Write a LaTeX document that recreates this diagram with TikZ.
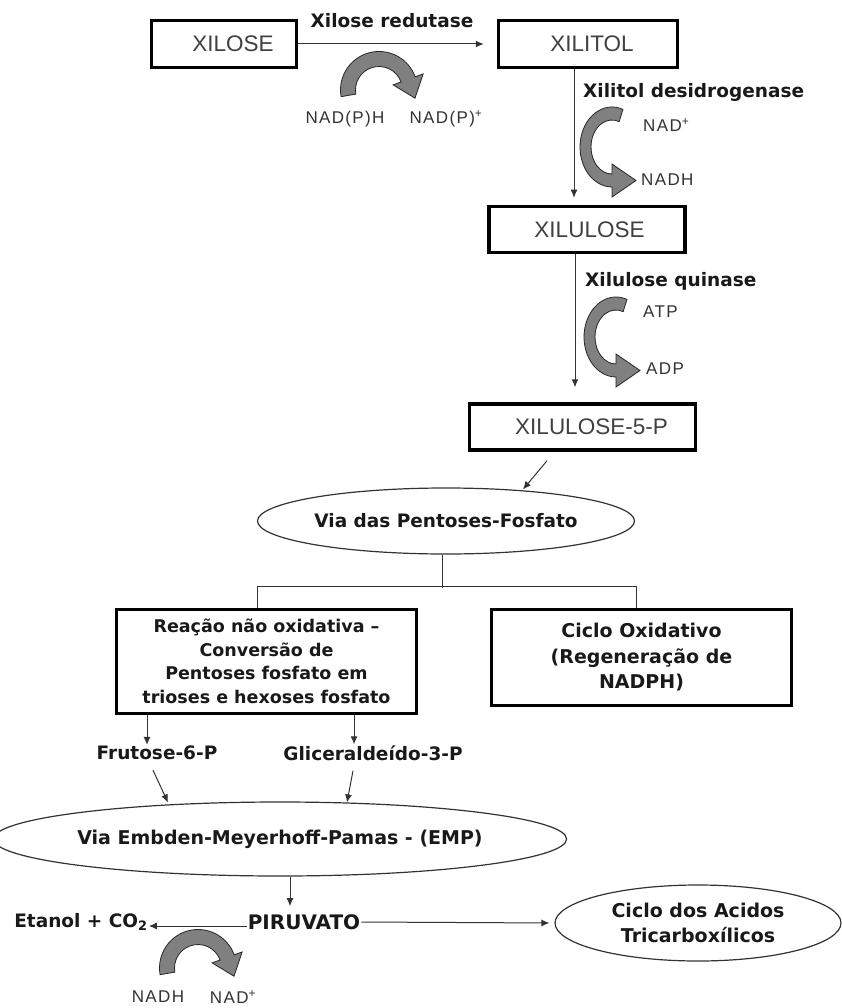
\documentclass[tikz,border=0pt]{standalone}
\usepackage{fontspec}
\setmainfont{Liberation Sans}
\newfontfamily\labelfont{DejaVu Sans}
\usetikzlibrary{arrows.meta, shapes.geometric}

\tikzset{
    sugar/.style={rectangle, draw=black, line width=3.5pt, text=black!75, inner sep=0pt,
        font=\fontsize{22.5}{26}\selectfont},
    stepbox/.style={rectangle, draw=black, line width=3.5pt, text=black!90, inner sep=0pt, align=center},
    pathway/.style={ellipse, draw=black!80, line width=1.2pt, inner sep=0pt, align=center, text=black!90,
        font=\labelfont\bfseries\fontsize{18.5}{24}\selectfont},
    enzyme/.style={inner sep=0pt, text=black!90, font=\labelfont\bfseries\fontsize{18.5}{22}\selectfont},
    cofactor/.style={inner sep=0pt, text=black!80,
        font=\fontsize{17}{20}\selectfont\addfontfeature{LetterSpace=8}},
    flow/.style={->, draw=black!80, line width=1pt},
    cofarrow/.style={fill=black!50, draw=black!85, line width=0.8pt},
}

\begin{document}
\begin{tikzpicture}[x=1pt, y=1pt, >={Latex[length=8pt, width=7pt]}]
    \useasboundingbox[fill=white] (0,0) rectangle (842,-1008);
    % Xylose path (boxes)
    \node[sugar, minimum width=145, minimum height=47] (xilose) at (224,-44) {\hspace*{18pt}XILOSE};
    \node[sugar, minimum width=179, minimum height=47] (xilitol) at (588,-44) {\hspace*{8pt}XILITOL};
    \node[sugar, minimum width=196, minimum height=46] (xilulose) at (587,-229.5) {\hspace*{5pt}XILULOSE};
    \node[sugar, minimum width=226, minimum height=46] (x5p) at (582.5,-427) {\hspace*{18pt}XILULOSE-5-P};

    % Enzymes
    \node[enzyme] (redutase) at (392,-21) {Xilose redutase};
    \node[enzyme, anchor=west] (desidro) at (583,-92) {Xilitol desidrogenase};
    \node[enzyme, anchor=west] (quinase) at (585,-281) {Xilulose quinase};

    % Cofactors
    \node[cofactor] (nadph1) at (345,-119) {NAD(P)H};
    \node[cofactor] (nadp1) at (446,-119) {NAD(P)\textsuperscript{+}};
    \node[cofactor, anchor=west] (nad2) at (643,-125) {NAD\textsuperscript{+}};
    \node[cofactor, anchor=west] (nadh2) at (641,-180) {NADH};
    \node[cofactor, anchor=west] (atp) at (643,-312) {ATP};
    \node[cofactor, anchor=west] (adp) at (646,-369) {ADP};
    \node[cofactor] (nadh4) at (158,-997) {NADH};
    \node[cofactor] (nad4) at (233,-997) {NAD\textsuperscript{+}};

    % Pentose phosphate pathway
    \node[pathway, minimum width=377, minimum height=66] (ppp) at (446,-521) {Via das Pentoses-Fosfato};
    \node[stepbox, minimum width=300, minimum height=104,
        font=\labelfont\bfseries\fontsize{17.5}{23.5}\selectfont] (nonox) at (266.5,-661.5)
        {Reação não oxidativa –\\Conversão de\\Pentoses fosfato em\\trioses e hexoses fosfato};
    \node[stepbox, minimum width=300, minimum height=96,
        font=\labelfont\bfseries\fontsize{19}{25.5}\selectfont] (oxid) at (641.5,-657.5)
        {Ciclo Oxidativo\\(Regeneração de\\NADPH)};

    % Trioses and hexoses
    \node[enzyme] (frut) at (157,-753) {Frutose-6-P};
    \node[enzyme] (glic) at (373,-753) {Gliceraldeído-3-P};

    % Glycolysis and pyruvate
    \node[pathway, minimum width=475, minimum height=74, font=\labelfont\bfseries\fontsize{19}{24}\selectfont]
        (emp) at (280,-839) {Via Embden-Meyerhoff-Pamas - (EMP)};
    \node[enzyme, inner sep=1pt, font=\labelfont\bfseries\fontsize{20}{24}\selectfont] (piru) at (304,-922) {PIRUVATO};
    \node[enzyme, inner sep=1pt] (etanol) at (81,-922) {Etanol + CO\textsubscript{2}};
    \node[pathway, minimum width=286, minimum height=76, font=\labelfont\bfseries\fontsize{19}{25}\selectfont]
        (tca) at (698,-923) {Ciclo dos Acidos\\Tricarboxílicos};

    % Connections: xylose to xylulose-5-P
    \draw[flow, shorten >=13pt] (xilose) -- (xilitol);
    \draw[flow, shorten >=7pt] ([xshift=-14pt]xilitol.south) -- ([xshift=-13pt]xilulose.north);
    \draw[flow, shorten >=15pt] ([xshift=-12pt]xilulose.south) -- ([xshift=-7.5pt]x5p.south |- x5p.north);
    \draw[flow] ([shift={(-35.5pt,-9pt)}]x5p.south) -- ([shift={(77pt,-2pt)}]ppp.north);

    % Branches of the pentose phosphate pathway
    \draw[draw=black!80, line width=1pt] ([xshift=-4pt]ppp.south) -- ++(0,-33);
    \draw[draw=black!80, line width=1pt] ([xshift=-9.5pt]nonox.north) -- ++(0,21) -| ([xshift=-5.5pt]oxid.north);

    % Non oxidative products into EMP
    \draw[flow] ([xshift=-119.5pt]nonox.south) -- ([xshift=-10pt,yshift=1pt]frut.north);
    \draw[flow] ([xshift=87.5pt]nonox.south) -- ([xshift=-19pt,yshift=1pt]glic.north);
    \draw[flow] ([shift={(-4pt,-10pt)}]frut.south) -- ([shift={(-112pt,-1pt)}]emp.north);
    \draw[flow] ([shift={(-20pt,-10pt)}]glic.south) -- ([shift={(67pt,-1pt)}]emp.north);

    % Pyruvate
    \draw[flow, shorten >=7pt] ([xshift=10pt]emp.south) -- ([xshift=-14pt]piru.north);
    \draw[flow] ([yshift=-4pt]piru.west) -- ([yshift=-4pt]etanol.east);
    \draw[flow, shorten >=5pt] (piru.east) -- (tca.west);

    % Cofactor arrows (arch shaped)
    \foreach \cx/\cy in {379/-90, 198/-968} {
        \path[cofarrow, shift={(\cx,\cy)}] (190:38.5) arc[start angle=190, end angle=20, radius=38.5]
            -- (20:47) -- (35.97,-8.19) -- (20:15) -- (20:23.5)
            arc[start angle=20, end angle=190, radius=23.5] -- cycle;
    }
    % Cofactor arrows (C shaped)
    \foreach \cx/\cy in {612/-147, 616/-337} {
        \path[cofarrow, shift={(\cx,\cy)}] (70:32 and 40) arc[start angle=70, end angle=270, x radius=32, y radius=40]
            -- (0,-50) -- (24,-33.5) -- (0,-17) -- (0,-27)
            arc[start angle=270, end angle=70, x radius=21, y radius=27] -- cycle;
    }
\end{tikzpicture}
\end{document}
